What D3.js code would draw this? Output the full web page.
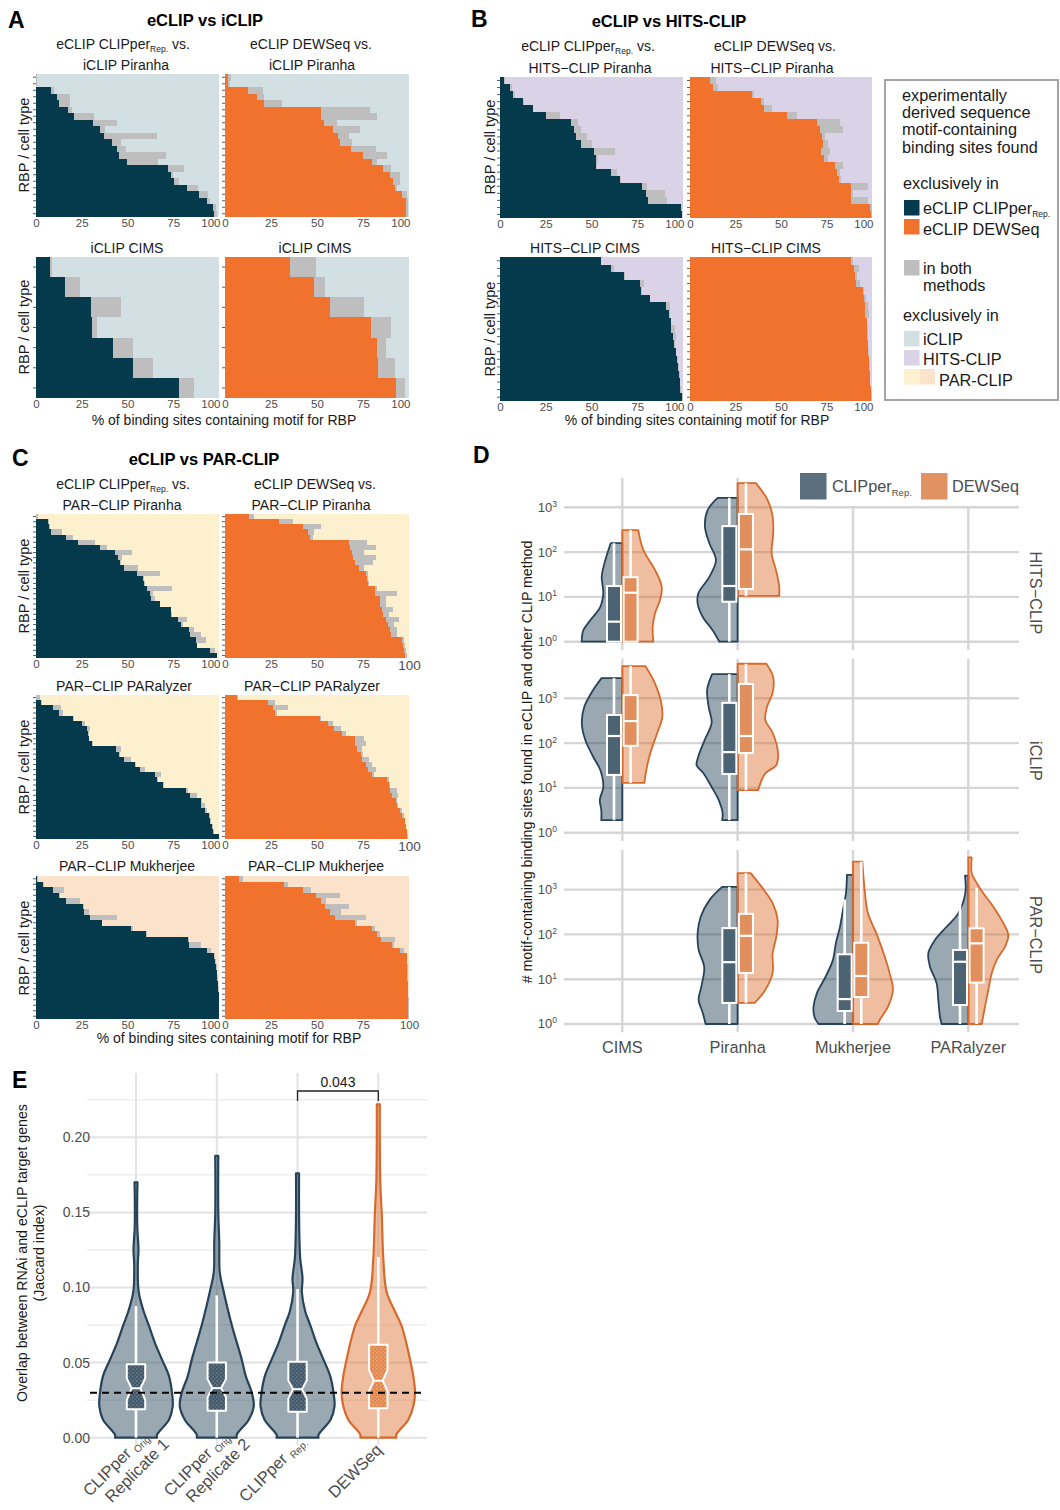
<!DOCTYPE html>
<html><head><meta charset="utf-8">
<script src="https://cdn.jsdelivr.net/npm/d3@7"></script>
<style>body{margin:0;background:#fff} text{white-space:pre}</style>
</head><body>
<svg id="fig" width="1060" height="1510" xmlns="http://www.w3.org/2000/svg"></svg>
<script>
// ================= DATA =================
// Panels A–C: each row = one RBP / cell type: [% exclusively in eCLIP, % in both methods]
// remainder up to 100 % = exclusively in the other CLIP method
const percentTicks = [0, 25, 50, 75, 100];

const iclipPiranhaCLIPper = [[0,0.7],[0,0.7],[8,2],[11.7,6.9],[12.8,5.8],[17.7,1.9],[20.8,11],[31.4,12.6],[35,2.8],[37.3,28.7],[41.5,4.9],[44,5.4],[45.5,25.5],[49.7,17],[72.2,8.6],[74,1],[75.3,2.7],[82.6,5.9],[89,5],[93.6,1.4],[96.9,1.3],[97.3,1.7]];
const iclipPiranhaDEWSeq = [[1.8,1.2],[1.8,0.8],[12.7,7.8],[17.6,3.4],[21,10],[52,27],[52.2,30.5],[54,7],[58.6,14.7],[61.3,6],[62.7,6.3],[68.5,13.3],[75,13],[80,2.4],[86,4.4],[89.6,5.4],[91.5,3.5],[92.4,1.2],[96.4,2.3],[98.2,1.3],[98.2,1.3],[98.5,1]];
const iclipCimsCLIPper = [[7.8,0.9],[15.8,8.2],[30,16.4],[30.5,2.8],[42.2,10.8],[53,11],[78.2,8.2]];
const iclipCimsDEWSeq = [[35.5,14.1],[48.2,6.3],[57.3,18.2],[79.6,10.4],[82.4,4.9],[83.3,9.1],[92.7,5.1]];

const hitsPiranhaCLIPper = [[2.4,0.4],[5.5,0.9],[7.3,0.9],[12.7,0.6],[17.8,0.4],[25,7.7],[39,3.7],[40.4,3.6],[41.5,6.1],[44.5,6],[51.3,11.4],[52.2,1.1],[52.4,0.4],[60.5,3.7],[65.5,0.4],[77.6,2.9],[79.6,10.4],[81,10],[98.7,0.6],[99.3,0.4]];
const hitsPiranhaDEWSeq = [[11,3.3],[12.8,2.4],[34,1],[39,1.9],[40.4,4.6],[53.2,5.5],[70,12.2],[71.2,12.8],[72.5,1.5],[73,2.6],[72,4.7],[73.4,2.6],[79.8,4.2],[81,1.2],[81.7,1.3],[88.6,9.2],[88.6,0.9],[88.6,9.2],[99,0.8],[99.2,0.6]];
const hitsCimsCLIPper = [[55.3,0],[60.4,1.8],[68,0.2],[76.3,2.2],[77.2,0.5],[82,0.2],[90.9,2.1],[92.3,0.4],[93.2,0.3],[93.6,1.8],[94.5,1.9],[95,0.4],[96,0.4],[96.7,0.5],[97.3,0.3],[97.8,0.3],[98.2,0.3],[98.5,0.6],[99.7,0.3]];
const hitsCimsDEWSeq = [[88.7,0.8],[90,2.7],[90.5,1.3],[91.3,2.3],[95,0.4],[95.5,1.2],[96,1.8],[96,2.2],[97,0.4],[97.3,0.4],[97.5,0.2],[97.6,0.2],[98,0.2],[98.2,0.2],[98.5,0.2],[98.7,0.2],[98.9,0.2],[99.5,0.2],[99.6,0.2]];

const parPiranhaCLIPper = [[0,1.3],[6.8,0.5],[7.3,0.4],[8.2,5.8],[16.5,3.5],[22.9,9.5],[35,3.8],[43.3,9.2],[45,2],[45.7,0.7],[48.3,7.5],[55.2,12.6],[58.5,0.4],[58.9,0.4],[60.7,13.7],[62.2,1.8],[63,2.3],[67.6,0.4],[73.5,0.4],[73.9,0.2],[77.5,5.1],[79,1.4],[83.5,2.8],[84.4,5.6],[87.2,5.8],[87.8,0.4],[95,2.6],[98.7,0.3]];
const parPiranhaDEWSeq = [[13.3,2.5],[29.6,7.3],[42.4,10],[44.9,3.6],[46,2],[67.3,10],[67.8,14],[69,6.5],[69.6,12.2],[70.4,10.1],[72.7,2.8],[76.9,0.7],[77.3,0.4],[77.8,0.4],[81.3,1.1],[81.5,11.8],[84.2,3.1],[84.5,2.8],[85.5,6],[85.8,3.2],[87.3,7.2],[88.5,3.3],[89.6,3.7],[90,3.3],[96.4,0.9],[96.9,0.7],[97.3,1.1],[97.8,0.9]];
const parParalyzerCLIPper = [[0,2.2],[2.6,0.5],[9.1,4.4],[12.8,1.8],[20.1,0.4],[25,1.9],[27.8,1.5],[28.3,0.5],[28.7,0.5],[30.5,0.5],[43.7,2.7],[45.5,0.5],[47.9,4],[54.3,0.5],[56.6,3],[65.3,3.1],[66.2,0.4],[69.5,0.4],[81.7,1.3],[84.1,3.7],[90,0.9],[90,2.1],[92.1,1.5],[94.5,0.5],[95,0.4],[96.3,0.4],[96.9,0.4],[100,0]];
const parParalyzerDEWSeq = [[6.4,0.9],[23.6,3.7],[26,8.5],[27.3,0.9],[51.5,0.7],[56,2.7],[59.1,4],[63.6,1.9],[70.4,5.1],[70.9,5.8],[71.5,3],[74,1.1],[74.5,3.7],[76.4,3.6],[77.6,4.2],[80,0.9],[88.2,0.9],[89.1,0.5],[89.6,3.7],[90.9,3.1],[92.7,0.9],[93.6,0.4],[95,1.4],[96.4,0.9],[97.6,0.2],[98.2,0.4],[98.7,0.4],[99,0.4]];
const parMukherjeeCLIPper = [[0.4,0.9],[4,0.4],[9.5,5.9],[12.8,0.4],[16.5,7.3],[25.6,0.7],[26,2.7],[29.6,14.6],[36,0.2],[51.9,1.1],[60.1,0.5],[83,0.5],[83.5,6.5],[93.2,2.6],[97.3,0.4],[97.6,0.5],[98.2,0.5],[98.7,0.4],[99.1,0.4],[99.5,0.2],[99.6,0.2],[99.8,0.2],[100,0],[100,0],[100,0],[100,0]];
const parMukherjeeDEWSeq = [[7.8,1.8],[32.2,2.3],[42.4,4.3],[49.6,13.1],[52.4,2.7],[54.5,13.1],[57.3,5.8],[59.6,16.8],[70.9,0.9],[80,1.3],[82.4,2.1],[85,7.2],[90.5,1.5],[95,2.3],[98.7,0.4],[98.7,0.4],[98.8,0.4],[99.1,0.4],[99.1,0.4],[99.4,0.2],[99.4,0.2],[99.5,0.2],[99.6,0.2],[99.6,0.4],[99.6,0.4],[99.7,0.3]];

// Panel D: # motif-containing binding sites (log scale); violin halves [value, relative density]
const dMethods = ["CIMS", "Piranha", "Mukherjee", "PARalyzer"];
const dFacets = ["HITS−CLIP", "iCLIP", "PAR−CLIP"];
const dYTicks = [1, 10, 100, 1000];
const dLegend = ["CLIPper", "DEWSeq"];

const hitsCimsClipperViolin = [[158,11.6],[66,17],[28,20.6],[12.3,19],[6,22],[3,32],[1.8,39],[1,40.6]];
const hitsCimsDewseqViolin = [[310,16],[112,21],[40,32.7],[17,39.4],[8.5,37.7],[4.3,32.7],[2.15,30.4],[1,31]];
const hitsPiranhaClipperViolin = [[1630,20],[870,30],[370,32.7],[158,28.3],[66,21.7],[28,28.3],[12,39.3],[7.2,40],[3.6,35],[1.8,25],[1,18.3]];
const hitsPiranhaDewseqViolin = [[3470,18.3],[1450,30],[620,35],[263,35.6],[94,34],[40,38.3],[17,41.6],[10.5,41.6]];
const iclipCimsClipperViolin = [[2820,20.7],[1550,29],[645,38],[282,40.5],[117,37],[49,29],[25,22],[10.5,19],[5.4,22.5],[3.2,21],[1.9,21]];
const iclipCimsDewseqViolin = [[5250,23],[2570,31],[915,38.4],[380,40],[170,35],[60,28],[25,24],[12.9,22]];
const iclipPiranhaClipperViolin = [[3470,25.5],[1550,30.5],[645,29],[282,26],[117,33],[49,39.5],[32,41],[21,34],[10.5,26],[5.4,19],[2.75,15],[1.9,15.5]];
const iclipPiranhaDewseqViolin = [[5900,28.7],[3000,35.5],[1320,35],[645,29.4],[330,27.6],[170,35],[60,40.4],[32,38.6],[21,27.6],[8.9,20.5]];
const parPiranhaClipperViolin = [[1150,15.5],[590,28],[245,37],[107,40],[45,39],[18.6,33.4],[6.8,36.3],[3.5,39],[1.8,35],[1,32]];
const parPiranhaDewseqViolin = [[2340,13],[1150,24],[500,35],[210,40],[87,38.6],[38,35],[13.8,35],[5.75,27.6],[2.95,17]];
const parMukherjeeClipperViolin = [[2130,6],[830,7],[350,10],[147,13],[65,17],[27,20],[11.2,27.5],[4.9,36],[2.4,39.5],[1.44,38.5],[1,34.5]];
const parMukherjeeDewseqViolin = [[4200,9.4],[980,11.7],[295,15],[105,23.4],[32,31.7],[13.5,36.7],[5.75,40],[2.45,35],[1.23,26.7],[1,25]];
const parParalyzerClipperViolin = [[2040,3.3],[830,3],[295,10],[148,21.7],[75,33.3],[38,40],[19,38.3],[8.1,31.7],[3.45,30],[1.45,28.3],[1,26.7]];
const parParalyzerDewseqViolin = [[5250,3.4],[2300,3.4],[1630,6.7],[830,15],[415,25],[178,35],[97,40],[53,36.7],[27,28.4],[13.5,23.4],[5.75,20],[2.45,16.7],[1,13.4]];

// boxes: [min, q1, median, q3, max]  (CLIPper, DEWSeq)
const hitsCimsBoxes = [[1,1,2.8,17.5,158],[1,1,12.4,27.5,310]];
const hitsPiranhaBoxes = [[1,7.8,17.5,380,1630],[10.5,15,115,710,3470]];
const iclipCimsBoxes = [[1.9,19.5,144,425,2820],[12.9,87,310,1180,5250]];
const iclipPiranhaBoxes = [[1.9,20.4,63,790,3470],[8.9,60,144,2090,5900]];
const parPiranhaBoxes = [[1,2.95,24,138,1150],[2.95,13.8,93,288,2340]];
const parMukherjeeBoxes = [[1,1.95,3.6,36,600],[1,4,11.8,65,4200]];
const parParalyzerBoxes = [[1,2.65,24.5,45,600],[1,8.4,63,137,1100]];

// Panel E: Jaccard index, RNAi vs eCLIP target genes; violin [value, relative density]
const eYTicks = [0, 0.05, 0.10, 0.15, 0.20];
const eYMinor = [0.025, 0.075, 0.125, 0.175, 0.225];
const eCategories = ["orig1", "orig2", "rep", "dewseq"];
const eViolinOrig1 = [[0.170,1.5],[0.16,1.2],[0.14,1.3],[0.125,2.5],[0.115,1.8],[0.097,2.7],[0.084,7.7],[0.075,12.7],[0.063,19],[0.052,26],[0.041,33],[0.030,36],[0.021,36.7],[0.012,33],[0.002,21],[0,21]];
const eViolinOrig2 = [[0.1876,1.5],[0.15,1.5],[0.13,2.5],[0.11,3],[0.097,7],[0.075,15],[0.052,25],[0.041,29],[0.030,35],[0.021,37],[0.012,32],[0.002,20],[0,20]];
const eViolinRep = [[0.176,1.5],[0.15,1.5],[0.13,2],[0.119,2.7],[0.106,5],[0.097,4.3],[0.084,7.7],[0.075,12.7],[0.063,19],[0.052,26],[0.041,32.7],[0.030,36],[0.021,37],[0.012,33],[0.002,21],[0,21]];
const eViolinDewseq = [[0.222,1.5],[0.20,1.5],[0.17,2],[0.148,3.5],[0.119,5],[0.097,8.3],[0.084,16.7],[0.075,23],[0.063,28],[0.052,31.7],[0.041,35],[0.030,36.7],[0.021,35],[0.012,30],[0.002,18],[0,18]];
// [min, q1, notch low, median, notch high, q3, max]
const eBoxes = [[0,0.0189,0.0251,0.0329,0.0395,0.0489,0.0876],[0,0.018,0.027,0.033,0.039,0.050,0.0947],[0,0.0172,0.026,0.0323,0.038,0.0505,0.099],[0,0.0196,0.031,0.0379,0.045,0.0619,0.1203]];
const eThreshold = 0.03;
const eBracket = ["rep", "dewseq", 0.2308, "0.043"];

// ================= STYLE =================
const F = '"Liberation Sans", Arial, Helvetica, sans-serif';
const DARK = "#053a4c", ORANGE = "#f1722c", BOTH = "#bebebe";
const ICLIP_BG = "#d2e0e3", HITS_BG = "#dad3e8", PAR_BG = "#fdf0cf", MUK_BG = "#fbe3cb";
const TICK_TXT = "#4d4d4d";
const V_CL_FILL = "#1f3e54", V_CL_STROKE = "#26435a", B_CL = "#4c6373";
const V_DW_FILL = "#db6c2a", V_DW_STROKE = "#d9692b", B_DW = "#e08f5d";
const SUB = 14, TTL = 16.5, AXT = 14, YT = 14.5, LEG = 16.3;

const svg = d3.select("#fig");
svg.append("rect").attr("width",1060).attr("height",1510).attr("fill","#fff");

// dotted box fills for panel E (jittered points inside boxes)
const defs = svg.append("defs");
[["dotsCl", "#43596a", "#8c9ba7"], ["dotsDw", "#e2884f", "#f4c3a3"]].forEach(([id, bg, dot]) => {
  const p = defs.append("pattern").attr("id", id).attr("patternUnits", "userSpaceOnUse").attr("width", 4).attr("height", 4);
  p.append("rect").attr("width", 4).attr("height", 4).attr("fill", bg);
  p.append("circle").attr("cx", 1).attr("cy", 1).attr("r", 0.7).attr("fill", dot);
  p.append("circle").attr("cx", 3).attr("cy", 3).attr("r", 0.6).attr("fill", dot);
});

function rich(parent, x, y, parts, size, opt = {}) {
  const t = parent.append("text").attr("x", x).attr("y", y).attr("font-size", size)
    .attr("font-family", F).attr("fill", opt.fill || "#1a1a1a")
    .attr("text-anchor", opt.anchor || "start");
  if (opt.bold) t.attr("font-weight", "bold");
  if (opt.transform) t.attr("transform", opt.transform);
  let shift = 0;
  parts.forEach(p => {
    if (typeof p === "string") p = { t: p };
    const ts = t.append("tspan").text(p.t);
    const target = p.sub ? (opt.sub || 3) : p.sup ? -(opt.sup || 5) : 0;
    if (target !== shift) { ts.attr("dy", target - shift); shift = target; }
    if (p.sub || p.sup) ts.attr("font-size", p.size || Math.round(size * 0.62));
  });
  return t;
}

// ================= BAR PANELS (A–C) =================
function barPanel(rows, x0, x1, y0, y1, mainCol, bgCol, last) {
  const g = svg.append("g");
  const x = d3.scaleLinear().domain([0, 100]).range([x0, x1]);
  const y = d3.scaleBand().domain(d3.range(rows.length)).range([y0, y1]);
  const segs = [];
  rows.forEach((r, i) => {
    segs.push({ i, a: 0, b: r[0], c: mainCol });
    segs.push({ i, a: r[0], b: r[0] + r[1], c: BOTH });
    segs.push({ i, a: r[0] + r[1], b: 100, c: bgCol });
  });
  g.selectAll("rect").data(segs.filter(s => s.b > s.a)).join("rect")
    .attr("x", d => x(d.a)).attr("width", d => x(d.b) - x(d.a))
    .attr("y", d => y(d.i)).attr("height", y.bandwidth() + 0.4)
    .attr("fill", d => d.c).attr("shape-rendering", "crispEdges");
  g.selectAll("line.tk").data(d3.range(rows.length)).join("line").attr("class","tk")
    .attr("x1", x0 - 3).attr("x2", x0)
    .attr("y1", i => y(i) + y.bandwidth() / 2).attr("y2", i => y(i) + y.bandwidth() / 2)
    .attr("stroke", "#333").attr("stroke-width", 0.8);
  const ax = g.append("g").attr("transform", `translate(0,${y1})`)
    .call(d3.axisBottom(x).tickValues(percentTicks).tickSize(0).tickPadding(2));
  ax.select(".domain").remove();
  ax.selectAll("text").attr("font-size", 11.5).attr("fill", TICK_TXT).attr("font-family", F);
  const t100 = ax.selectAll(".tick").filter(d => d === 100).select("text");
  if (last === "end") t100.attr("text-anchor", "end").attr("x", 1);
  if (last === "big") t100.attr("font-size", 13.5).attr("x", 0);
  return x;
}

barPanel(iclipPiranhaCLIPper, 36, 219, 74, 217, DARK, ICLIP_BG, "end");
barPanel(iclipPiranhaDEWSeq, 225, 409, 74, 217, ORANGE, ICLIP_BG, "end");
barPanel(iclipCimsCLIPper, 36, 219, 257, 398, DARK, ICLIP_BG, "end");
barPanel(iclipCimsDEWSeq, 225, 409, 257, 398, ORANGE, ICLIP_BG, "end");
barPanel(hitsPiranhaCLIPper, 500, 683, 77, 218, DARK, HITS_BG, "end");
barPanel(hitsPiranhaDEWSeq, 690, 872, 77, 218, ORANGE, HITS_BG, "end");
barPanel(hitsCimsCLIPper, 500, 683, 257, 401, DARK, HITS_BG, "end");
barPanel(hitsCimsDEWSeq, 690, 872, 257, 401, ORANGE, HITS_BG, "end");
barPanel(parPiranhaCLIPper, 36, 219, 514, 658, DARK, PAR_BG, "end");
barPanel(parPiranhaDEWSeq, 225, 409, 514, 658, ORANGE, PAR_BG, "big");
barPanel(parParalyzerCLIPper, 36, 219, 695, 839, DARK, PAR_BG, "end");
barPanel(parParalyzerDEWSeq, 225, 409, 695, 839, ORANGE, PAR_BG, "big");
barPanel(parMukherjeeCLIPper, 36, 219, 876, 1019, DARK, MUK_BG, "end");
barPanel(parMukherjeeDEWSeq, 225, 409, 876, 1019, ORANGE, MUK_BG, "mid");

// texts A
const T = svg.append("g");
const subRep = { t: "Rep.", sub: true, size: 8.5 };
rich(T, 8, 28, ["A"], 23, { bold: true, fill: "#000" });
rich(T, 205, 26, ["eCLIP vs iCLIP"], TTL, { bold: true, anchor: "middle", fill: "#000" });
rich(T, 123, 49, ["eCLIP CLIPper", subRep, " vs."], SUB, { anchor: "middle" });
rich(T, 126, 70, ["iCLIP Piranha"], SUB, { anchor: "middle" });
rich(T, 311, 49, ["eCLIP DEWSeq vs."], SUB, { anchor: "middle" });
rich(T, 312, 70, ["iCLIP Piranha"], SUB, { anchor: "middle" });
rich(T, 127, 253, ["iCLIP CIMS"], SUB, { anchor: "middle" });
rich(T, 315, 253, ["iCLIP CIMS"], SUB, { anchor: "middle" });
rich(T, 0, 0, ["RBP / cell type"], YT, { anchor: "middle", transform: "translate(29,145) rotate(-90)" });
rich(T, 0, 0, ["RBP / cell type"], YT, { anchor: "middle", transform: "translate(29,327) rotate(-90)" });
rich(T, 224, 425, ["% of binding sites containing motif for RBP"], AXT, { anchor: "middle" });
// texts B
rich(T, 471, 27, ["B"], 23, { bold: true, fill: "#000" });
rich(T, 669, 27, ["eCLIP vs HITS-CLIP"], TTL, { bold: true, anchor: "middle", fill: "#000" });
rich(T, 588, 51, ["eCLIP CLIPper", subRep, " vs."], SUB, { anchor: "middle" });
rich(T, 590, 73, ["HITS−CLIP Piranha"], SUB, { anchor: "middle" });
rich(T, 775, 51, ["eCLIP DEWSeq vs."], SUB, { anchor: "middle" });
rich(T, 772, 73, ["HITS−CLIP Piranha"], SUB, { anchor: "middle" });
rich(T, 585, 253, ["HITS−CLIP CIMS"], SUB, { anchor: "middle" });
rich(T, 766, 253, ["HITS−CLIP CIMS"], SUB, { anchor: "middle" });
rich(T, 0, 0, ["RBP / cell type"], YT, { anchor: "middle", transform: "translate(495,147) rotate(-90)" });
rich(T, 0, 0, ["RBP / cell type"], YT, { anchor: "middle", transform: "translate(495,329) rotate(-90)" });
rich(T, 697, 425, ["% of binding sites containing motif for RBP"], AXT, { anchor: "middle" });
// texts C
rich(T, 12, 466, ["C"], 23, { bold: true, fill: "#000" });
rich(T, 204, 465, ["eCLIP vs PAR-CLIP"], TTL, { bold: true, anchor: "middle", fill: "#000" });
rich(T, 123, 489, ["eCLIP CLIPper", subRep, " vs."], SUB, { anchor: "middle" });
rich(T, 122, 510, ["PAR−CLIP Piranha"], SUB, { anchor: "middle" });
rich(T, 315, 489, ["eCLIP DEWSeq vs."], SUB, { anchor: "middle" });
rich(T, 311, 510, ["PAR−CLIP Piranha"], SUB, { anchor: "middle" });
rich(T, 124, 691, ["PAR−CLIP PARalyzer"], SUB, { anchor: "middle" });
rich(T, 312, 691, ["PAR−CLIP PARalyzer"], SUB, { anchor: "middle" });
rich(T, 127, 871, ["PAR−CLIP Mukherjee"], SUB, { anchor: "middle" });
rich(T, 316, 871, ["PAR−CLIP Mukherjee"], SUB, { anchor: "middle" });
[586, 767, 948].forEach(cy => rich(T, 0, 0, ["RBP / cell type"], YT, { anchor: "middle", transform: `translate(29,${cy}) rotate(-90)` }));
rich(T, 229, 1043, ["% of binding sites containing motif for RBP"], AXT, { anchor: "middle" });

// legend A–C
const L = svg.append("g");
L.append("rect").attr("x", 885).attr("y", 80).attr("width", 173).attr("height", 320)
  .attr("fill", "#fff").attr("stroke", "#a3a3a3").attr("stroke-width", 2);
["experimentally", "derived sequence", "motif-containing", "binding sites found"].forEach((s, i) =>
  rich(L, 902, 101 + i * 17.2, [s], LEG));
rich(L, 903, 189, ["exclusively in"], LEG);
const sq = (x, y, c) => L.append("rect").attr("x", x).attr("y", y).attr("width", 15.5).attr("height", 15.5).attr("fill", c);
sq(904, 200, DARK); rich(L, 923, 214, ["eCLIP CLIPper", { t: "Rep.", sub: true, size: 8.5 }], LEG);
sq(904, 219, ORANGE); rich(L, 923, 235, ["eCLIP DEWSeq"], LEG);
sq(904, 260, BOTH); rich(L, 923, 274, ["in both"], LEG); rich(L, 923, 291, ["methods"], LEG);
rich(L, 903, 321, ["exclusively in"], LEG);
sq(904, 331, ICLIP_BG); rich(L, 923, 345, ["iCLIP"], LEG);
sq(904, 350, HITS_BG); rich(L, 923, 365, ["HITS-CLIP"], LEG);
sq(904, 369, PAR_BG); sq(919.5, 369, MUK_BG); rich(L, 939, 386, ["PAR-CLIP"], LEG);

// ================= PANEL D =================
const D = svg.append("g");
const xD = d3.scalePoint().domain(dMethods).range([622.3, 968.3]);
const facetBase = [641.7, 832.7, 1024];  // pixel of 10^0 in each facet
const DEC = 44.8;
const yD = facetBase.map(b => d3.scaleLog().domain([0.653, 7674]).range([b + 0.185 * DEC, b - 3.885 * DEC]));
const gridTop = [478, yD[1](7674), yD[2](7674)];
const wD = d3.scaleLinear().domain([0, 42]).range([0, 42]);

rich(D, 473, 463, ["D"], 23, { bold: true, fill: "#000" });
yD.forEach((ys, fi) => {
  const bottom = ys(0.653);
  dYTicks.forEach(v => {
    D.append("line").attr("x1", 564).attr("x2", 1019).attr("y1", ys(v)).attr("y2", ys(v))
      .attr("stroke", "#d6d6d6").attr("stroke-width", 2.4);
    rich(D, 557, ys(v) + 4.5, ["10", { t: String(Math.round(Math.log10(v))), sup: true, size: 8.5 }], 13,
      { anchor: "end", fill: TICK_TXT, sup: 5 });
  });
  dMethods.forEach(m => {
    D.append("line").attr("x1", xD(m)).attr("x2", xD(m)).attr("y1", gridTop[fi]).attr("y2", bottom)
      .attr("stroke", "#d6d6d6").attr("stroke-width", 2.4);
  });
});
// legend white background covering the top of facet 1
D.append("rect").attr("x", 786).attr("y", 462).attr("width", 236).attr("height", 44).attr("fill", "#fff");

const dHalves = [
  [0, "CIMS", hitsCimsClipperViolin, hitsCimsDewseqViolin, hitsCimsBoxes],
  [0, "Piranha", hitsPiranhaClipperViolin, hitsPiranhaDewseqViolin, hitsPiranhaBoxes],
  [1, "CIMS", iclipCimsClipperViolin, iclipCimsDewseqViolin, iclipCimsBoxes],
  [1, "Piranha", iclipPiranhaClipperViolin, iclipPiranhaDewseqViolin, iclipPiranhaBoxes],
  [2, "Piranha", parPiranhaClipperViolin, parPiranhaDewseqViolin, parPiranhaBoxes],
  [2, "Mukherjee", parMukherjeeClipperViolin, parMukherjeeDewseqViolin, parMukherjeeBoxes],
  [2, "PARalyzer", parParalyzerClipperViolin, parParalyzerDewseqViolin, parParalyzerBoxes]
];
const curve = d3.curveCatmullRom.alpha(0.5);
dHalves.forEach(([fi, m, vc, vd, boxes]) => {
  const cx = xD(m), ys = yD[fi];
  [[vc, -1, V_CL_FILL, V_CL_STROKE], [vd, 1, V_DW_FILL, V_DW_STROKE]].forEach(([prof, side, fill, stroke]) => {
    const area = d3.area().x0(cx).x1(d => cx + side * wD(d[1])).y(d => ys(d[0])).curve(curve);
    D.append("path").datum(prof).attr("d", area).attr("fill", fill).attr("fill-opacity", 0.45)
      .attr("stroke", stroke).attr("stroke-width", 1.8).attr("stroke-linejoin", "round");
  });
});
dHalves.forEach(([fi, m, vc, vd, boxes]) => {
  const cx = xD(m), ys = yD[fi];
  boxes.forEach((b, k) => {
    const bx = cx + (k === 0 ? -8.3 : 8.3);
    D.append("line").attr("x1", bx).attr("x2", bx).attr("y1", ys(b[4])).attr("y2", ys(b[0]))
      .attr("stroke", "#fff").attr("stroke-width", 2.6);
    D.append("rect").attr("x", bx - 7).attr("width", 14).attr("y", ys(b[3])).attr("height", ys(b[1]) - ys(b[3]))
      .attr("fill", k === 0 ? B_CL : B_DW).attr("stroke", "#fff").attr("stroke-width", 2);
    D.append("line").attr("x1", bx - 7).attr("x2", bx + 7).attr("y1", ys(b[2])).attr("y2", ys(b[2]))
      .attr("stroke", "#fff").attr("stroke-width", 2.2);
  });
});
// facet strips
[[dFacets[0], 593], [dFacets[1], 761], [dFacets[2], 935]].forEach(([s, cy]) =>
  rich(D, 0, 0, [s], 16.3, { anchor: "middle", fill: TICK_TXT, transform: `translate(1030,${cy}) rotate(90)` }));
// x labels
dMethods.forEach(m => rich(D, xD(m), 1053, [m], 16.3, { anchor: "middle", fill: TICK_TXT }));
// y title
rich(D, 0, 0, ["# motif-containing binding sites found in eCLIP and other CLIP method"], 14.2,
  { anchor: "middle", transform: "translate(532,762) rotate(-90)" });
// legend D
D.append("rect").attr("x", 800).attr("y", 473).attr("width", 26.5).attr("height", 26.5).attr("fill", "#5b6f7e");
rich(D, 832, 492, [dLegend[0], { t: "Rep.", sub: true, size: 9.5 }], 16.3, { fill: TICK_TXT, sub: 4 });
D.append("rect").attr("x", 921).attr("y", 473).attr("width", 26.5).attr("height", 26.5).attr("fill", "#e09262");
rich(D, 952, 492, [dLegend[1]], 16.3, { fill: TICK_TXT });

// ================= PANEL E =================
const E = svg.append("g");
const xE = d3.scalePoint().domain(eCategories).range([136, 378.3]);
const yE = d3.scaleLinear().domain([0, 0.2426]).range([1437.7, 1073.3]);
const wE = d3.scaleLinear().domain([0, 40]).range([0, 40]);
rich(E, 12, 1088, ["E"], 23, { bold: true, fill: "#000" });
eYMinor.forEach(v => E.append("line").attr("x1", 87).attr("x2", 427).attr("y1", yE(v)).attr("y2", yE(v))
  .attr("stroke", "#eeeeee").attr("stroke-width", 1.5));
eYTicks.forEach(v => {
  E.append("line").attr("x1", 87).attr("x2", 427).attr("y1", yE(v)).attr("y2", yE(v))
    .attr("stroke", "#e3e3e3").attr("stroke-width", 2);
  rich(E, 90, yE(v) + 5, [d3.format(".2f")(v)], 14, { anchor: "end", fill: TICK_TXT });
});
eCategories.forEach(c => E.append("line").attr("x1", xE(c)).attr("x2", xE(c)).attr("y1", 1073.3).attr("y2", 1445)
  .attr("stroke", "#e3e3e3").attr("stroke-width", 2));
const eViolins = [eViolinOrig1, eViolinOrig2, eViolinRep, eViolinDewseq];
eViolins.forEach((prof, i) => {
  const cx = xE(eCategories[i]);
  const dw = i === 3;
  const area = d3.area().x0(d => cx - wE(d[1])).x1(d => cx + wE(d[1])).y(d => yE(d[0])).curve(curve);
  E.append("path").datum(prof).attr("d", area)
    .attr("fill", dw ? V_DW_FILL : V_CL_FILL).attr("fill-opacity", 0.45)
    .attr("stroke", dw ? V_DW_STROKE : V_CL_STROKE).attr("stroke-width", 2.2).attr("stroke-linejoin", "round");
});
eBoxes.forEach((b, i) => {
  const cx = xE(eCategories[i]);
  const dw = i === 3;
  const hw = 9.2, ins = 4.8;
  E.append("line").attr("x1", cx).attr("x2", cx).attr("y1", yE(b[6])).attr("y2", yE(b[0]))
    .attr("stroke", "#fff").attr("stroke-width", 2.6);
  const pts = [[cx - hw, b[5]], [cx + hw, b[5]], [cx + hw, b[4]], [cx + hw - ins, b[3]], [cx + hw, b[2]], [cx + hw, b[1]],
    [cx - hw, b[1]], [cx - hw, b[2]], [cx - hw + ins, b[3]], [cx - hw, b[4]]];
  E.append("path").attr("d", d3.line().x(d => d[0]).y(d => yE(d[1]))(pts) + "Z")
    .attr("fill", dw ? "url(#dotsDw)" : "url(#dotsCl)").attr("stroke", "#fff").attr("stroke-width", 2).attr("stroke-linejoin", "round");
  E.append("line").attr("x1", cx - hw + ins).attr("x2", cx + hw - ins).attr("y1", yE(b[3])).attr("y2", yE(b[3]))
    .attr("stroke", "#fff").attr("stroke-width", 2);
});
E.append("line").attr("x1", 90).attr("x2", 424).attr("y1", yE(eThreshold)).attr("y2", yE(eThreshold))
  .attr("stroke", "#000").attr("stroke-width", 2).attr("stroke-dasharray", "7,5");
// bracket
{
  const xa = xE(eBracket[0]), xb = xE(eBracket[1]), yb = yE(eBracket[2]);
  E.append("path").attr("d", `M${xa},${yb + 10}V${yb}H${xb}V${yb + 10}`).attr("fill", "none")
    .attr("stroke", "#222").attr("stroke-width", 1.3);
  rich(E, (xa + xb) / 2, yb - 4, [eBracket[3]], 14, { anchor: "middle" });
}
// x labels (rotated)
const eLabelSpec = [
  [["CLIPper ", { t: "Orig.", sub: true, size: 10 }], ["Replicate 1"], 15, 1436],
  [["CLIPper ", { t: "Orig.", sub: true, size: 10 }], ["Replicate 2"], 15, 1436],
  [["CLIPper ", { t: "Rep.", sub: true, size: 10 }], null, 9.3, 1442],
  [["DEWSeq"], null, 4.7, 1451]
];
eLabelSpec.forEach(([l1, l2, off, ay], i) => {
  const ax = xE(eCategories[i]) + off;
  const g = E.append("g").attr("transform", `translate(${ax},${ay}) rotate(-45)`);
  rich(g, 0, 0, l1, 16.5, { anchor: "end", fill: TICK_TXT, sub: 3 });
  if (l2) rich(g, 7, 20, l2, 16.5, { anchor: "end", fill: TICK_TXT });
});
rich(E, 0, 0, ["Overlap between RNAi and eCLIP target genes"], 14.2, { anchor: "middle", transform: "translate(27,1253) rotate(-90)" });
rich(E, 0, 0, ["(Jaccard index)"], 14.2, { anchor: "middle", transform: "translate(44,1253) rotate(-90)" });
</script>
</body></html>
